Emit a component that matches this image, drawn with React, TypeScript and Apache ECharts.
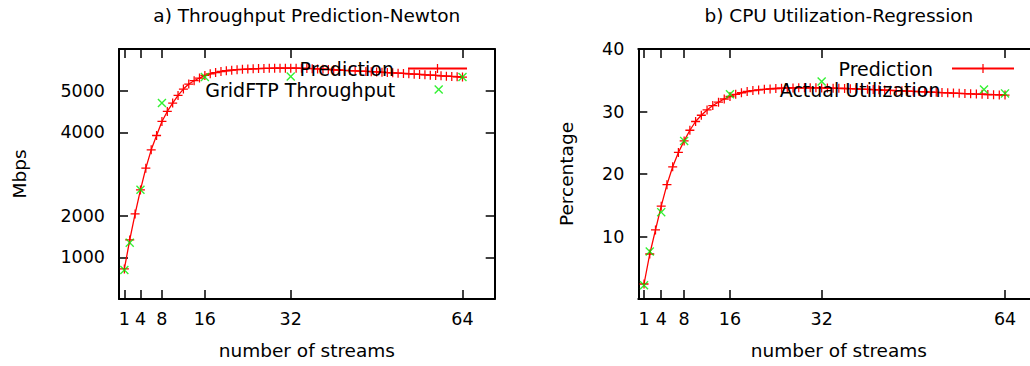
import React, { useEffect, useRef } from "react";
import * as echarts from "echarts";

// number of parallel streams for the prediction curves (1..64)
const streams = [
  1, 2, 3, 4, 5, 6, 7, 8, 9, 10, 11, 12, 13, 14, 15, 16, 17, 18, 19, 20,
  21, 22, 23, 24, 25, 26, 27, 28, 29, 30, 31, 32, 33, 34, 35, 36, 37, 38, 39, 40,
  41, 42, 43, 44, 45, 46, 47, 48, 49, 50, 51, 52, 53, 54, 55, 56, 57, 58, 59, 60,
  61, 62, 63, 64,
];

// a) throughput prediction (Mbps), one value per stream count
const throughputPrediction = [
  721, 1418, 2043, 2619, 3140, 3580, 3924, 4261, 4501, 4702,
  4886, 5038, 5159, 5239, 5303, 5366, 5405, 5435, 5460, 5478,
  5492, 5503, 5512, 5519, 5525, 5530, 5534, 5537, 5539, 5540,
  5540, 5540, 5539, 5537, 5533, 5527, 5521, 5515, 5509, 5502,
  5496, 5489, 5483, 5476, 5469, 5463, 5456, 5449, 5442, 5435,
  5428, 5421, 5413, 5405, 5397, 5389, 5381, 5373, 5365, 5357,
  5349, 5341, 5334, 5327,
];

// measured GridFTP throughput (Mbps)
const measuredStreams = [1, 2, 4, 8, 16, 32, 64];
const gridftpThroughput = [697, 1353, 2620, 4702, 5330, 5342, 5327];

// b) CPU utilization prediction (%)
const cpuPrediction = [
  2.4, 7.2, 11.05, 14.85, 18.3, 21.15, 23.45, 25.3, 27.0, 28.4,
  29.4, 30.25, 30.95, 31.5, 32.0, 32.4, 32.75, 33.0, 33.2, 33.35,
  33.45, 33.55, 33.62, 33.68, 33.72, 33.76, 33.78, 33.8, 33.8, 33.8,
  33.79, 33.78, 33.76, 33.74, 33.71, 33.68, 33.65, 33.62, 33.58, 33.55,
  33.51, 33.47, 33.43, 33.39, 33.35, 33.31, 33.27, 33.23, 33.19, 33.15,
  33.11, 33.07, 33.03, 32.99, 32.95, 32.91, 32.87, 32.83, 32.79, 32.76,
  32.72, 32.69, 32.66, 32.63,
];

// measured CPU utilization (%)
const actualUtilization = [2.2, 7.6, 13.9, 25.3, 32.75, 34.8, 32.9];

const xTicks = [1, 4, 8, 16, 32, 64];
const throughputTicks = [1000, 2000, 4000, 5000];
const cpuTicks = [10, 20, 30, 40];

const FONT = "DejaVu Sans, Verdana, sans-serif";
const PLUS = "path://M4.3,0H5.7V4.3H10V5.7H5.7V10H4.3V5.7H0V4.3H4.3Z";
const CROSS =
  "path://M0,1.1L1.1,0L5,3.9L8.9,0L10,1.1L6.1,5L10,8.9L8.9,10L5,6.1L1.1,10L0,8.9L3.9,5Z";

const pairs = (xs: number[], ys: number[]) => xs.map((x, i) => [x, ys[i]]);

const axisLine = () => ({ show: true, onZero: false, lineStyle: { color: "#000", width: 2 } });
const axisTick = (vals: number[]) => ({
  show: true,
  inside: true,
  length: 9,
  customValues: vals.slice(),
  lineStyle: { color: "#000", width: 1.5 },
});
const textStyle = (size: number) => ({ color: "#000", fontSize: size, fontFamily: FONT });

function frameAxes(gridIndex: number, ticks: number[], max: number, name: string, nameGap: number) {
  const xAxes = [
    {
      type: "value",
      gridIndex,
      min: 0,
      max: 70,
      position: "bottom",
      axisLine: axisLine(),
      axisTick: axisTick(xTicks),
      axisLabel: { ...textStyle(17.5), customValues: xTicks.slice(), margin: 11, formatter: (v: number) => String(v) },
      splitLine: { show: false },
      name: "number of streams",
      nameLocation: "middle",
      nameGap: 42,
      nameTextStyle: textStyle(18.5),
    },
    {
      type: "value",
      gridIndex,
      min: 0,
      max: 70,
      position: "top",
      axisLine: axisLine(),
      axisTick: axisTick(xTicks),
      axisLabel: { show: false },
      splitLine: { show: false },
    },
  ];
  const yAxes = [
    {
      type: "value",
      gridIndex,
      min: 0,
      max,
      position: "left",
      axisLine: axisLine(),
      axisTick: axisTick(ticks),
      axisLabel: { ...textStyle(17.5), customValues: ticks.slice(), margin: 14, formatter: (v: number) => String(v) },
      splitLine: { show: false },
      name,
      nameLocation: "middle",
      nameGap,
      nameTextStyle: textStyle(18.5),
    },
    {
      type: "value",
      gridIndex,
      min: 0,
      max,
      position: "right",
      axisLine: axisLine(),
      axisTick: axisTick(ticks),
      axisLabel: { show: false },
      splitLine: { show: false },
    },
  ];
  return { xAxes, yAxes };
}

export default function App() {
  const ref = useRef<HTMLDivElement>(null);

  useEffect(() => {
    if (!ref.current) return;
    const chart = echarts.init(ref.current, undefined, { renderer: "svg" });

    const a = frameAxes(0, throughputTicks, 6000, "Mbps", 90);
    const b = frameAxes(1, cpuTicks, 40, "Percentage", 62);

    // key entries: text on the left, sample on the right
    const key = (name: string, right: number, top: number, itemWidth: number, itemHeight: number, gap: number) => ({
      data: [name],
      orient: "vertical",
      align: "right",
      padding: 0,
      right,
      top,
      itemWidth,
      itemHeight,
      selectedMode: false,
      textStyle: { ...textStyle(19), padding: [0, gap, 0, 0] },
    });

    const predLine = (name: string, data: number[][], idx: number) => ({
      type: "line",
      name,
      xAxisIndex: idx * 2,
      yAxisIndex: idx * 2,
      data,
      symbol: PLUS,
      symbolSize: 9,
      showAllSymbol: true,
      itemStyle: { color: "#ff0000" },
      lineStyle: { color: "#ff0000", width: 1.3 },
      z: 2,
    });
    const measured = (name: string, data: number[][], idx: number) => ({
      type: "scatter",
      name,
      xAxisIndex: idx * 2,
      yAxisIndex: idx * 2,
      data,
      symbol: CROSS,
      symbolSize: 9,
      itemStyle: { color: "#00ee00" },
      z: 3,
    });

    chart.setOption({
      animation: false,
      title: [
        {
          text: "a) Throughput Prediction-Newton",
          left: 306.8,
          top: 6,
          textAlign: "center",
          padding: 0,
          textStyle: { ...textStyle(18.5), fontWeight: "normal" },
        },
        {
          text: "b) CPU Utilization-Regression",
          left: 838.9,
          top: 6,
          textAlign: "center",
          padding: 0,
          textStyle: { ...textStyle(18.5), fontWeight: "normal" },
        },
      ],
      legend: [
        key("Prediction", 562, 59, 59, 11, 9),
        key("GridFTP Throughput", 586.8, 80, 9, 9, 34),
        key("Prediction ", 15, 59, 62, 11, 8),
        key("Actual Utilization", 41.5, 80, 9, 9, 34),
      ],
      grid: [
        { left: 119, right: 535.3, top: 49, bottom: 67, outerBoundsMode: "none", containLabel: false },
        { left: 638.3, right: -9.4, top: 49, bottom: 67, outerBoundsMode: "none", containLabel: false },
      ],
      xAxis: [...a.xAxes, ...b.xAxes],
      yAxis: [...a.yAxes, ...b.yAxes],
      series: [
        predLine("Prediction", pairs(streams, throughputPrediction), 0),
        measured("GridFTP Throughput", pairs(measuredStreams, gridftpThroughput), 0),
        predLine("Prediction ", pairs(streams, cpuPrediction), 1),
        measured("Actual Utilization", pairs(measuredStreams, actualUtilization), 1),
      ],
    });

    return () => chart.dispose();
  }, []);

  return (
    <div
      ref={ref}
      style={{ position: "absolute", left: 0, top: 0, width: 1030, height: 366 }}
    />
  );
}
